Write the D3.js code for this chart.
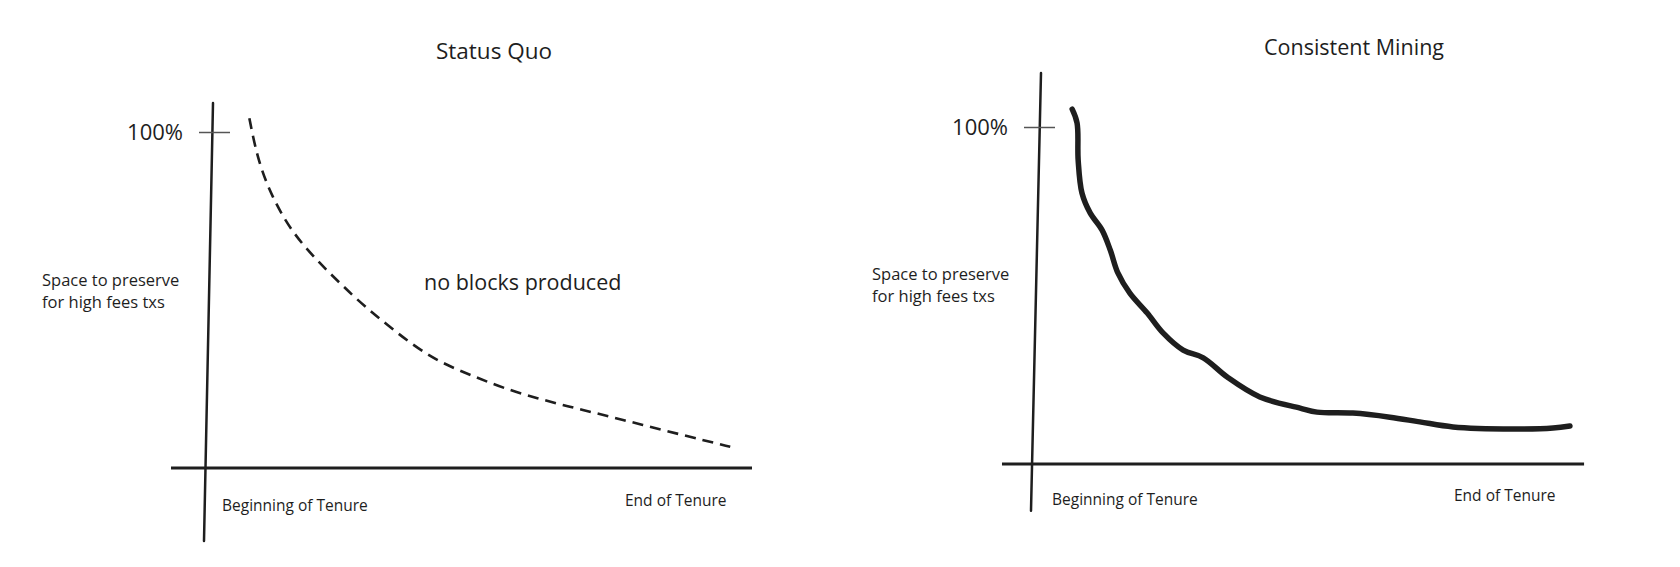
<!DOCTYPE html>
<html>
<head>
<meta charset="utf-8">
<script src="https://cdn.jsdelivr.net/npm/d3@7"></script>
<style>
  html, body { margin: 0; padding: 0; background: #fff; }
  svg text { font-family: 'Open Sans', sans-serif; fill: #1e1e1e; }
</style>
</head>
<body>
<svg id="chart"></svg>
<script>
// tenure progress (0 = beginning, 1 = end) and share of block space kept back
const statusQuoX = [0.076, 0.085, 0.094, 0.105, 0.119, 0.134, 0.153, 0.175, 0.199, 0.223,
  0.248, 0.273, 0.301, 0.325, 0.377, 0.426, 0.482, 0.542, 0.616, 0.689, 0.763, 0.836, 0.91, 0.96];
const statusQuoY = [1.041, 0.968, 0.912, 0.859, 0.807, 0.76, 0.71, 0.664, 0.621, 0.581,
  0.542, 0.503, 0.464, 0.432, 0.365, 0.315, 0.277, 0.238, 0.202, 0.173, 0.143, 0.113, 0.083, 0.063];

const miningX = [0.072, 0.081, 0.083, 0.09, 0.105, 0.127, 0.142, 0.156, 0.178, 0.21, 0.239,
  0.276, 0.313, 0.357, 0.417, 0.491, 0.522, 0.588, 0.656, 0.711, 0.772, 0.882, 0.956, 0.987];
const miningY = [1.053, 1.012, 0.902, 0.804, 0.745, 0.694, 0.635, 0.567, 0.507, 0.448, 0.389,
  0.338, 0.315, 0.258, 0.199, 0.166, 0.154, 0.151, 0.139, 0.125, 0.11, 0.104, 0.107, 0.113];

const yTicks = [1];
const yLabel = ['Space to preserve', 'for high fees txs'];
const xLabels = ['Beginning of Tenure', 'End of Tenure'];
const titles = ['Status Quo', 'Consistent Mining'];

const W = 1680, H = 567;
const svg = d3.select('#chart').attr('width', W).attr('height', H);

// layout of each panel (pixels), data lives above
const panels = [
  {
    title: titles[0], xs: statusQuoX, ys: statusQuoY, dashed: true,
    xRange: [208, 752], yRange: [468, 132],
    titleX: 494, titleY: 59, titleSize: 22.5,
    yAxisTop: 1.086, yAxisBottom: -0.217, tiltTop: 5, tiltBottom: -4,
    xAxisFrom: -0.068, xAxisTo: 1,
    labelX: 42, labelY: 286,
    begin: [222, 511], end: [625, 506],
    note: { text: 'no blocks produced', x: 424, y: 290 }
  },
  {
    title: titles[1], xs: miningX, ys: miningY, dashed: false,
    xRange: [1033, 1577], yRange: [464, 127],
    titleX: 1354, titleY: 55, titleSize: 21.5,
    yAxisTop: 1.16, yAxisBottom: -0.139, tiltTop: 8, tiltBottom: -2,
    xAxisFrom: -0.057, xAxisTo: 1.013,
    labelX: 872, labelY: 280,
    begin: [1052, 505], end: [1454, 501],
    note: null
  }
];

panels.forEach(p => {
  const x = d3.scaleLinear().domain([0, 1]).range(p.xRange);
  const y = d3.scaleLinear().domain([0, 1]).range(p.yRange);
  const g = svg.append('g');

  // title
  g.append('text')
    .attr('x', p.titleX).attr('y', p.titleY)
    .attr('text-anchor', 'middle')
    .style('font-size', p.titleSize + 'px')
    .text(p.title);

  // y axis (slightly hand-drawn tilt)
  g.append('line')
    .attr('x1', x(0) + p.tiltTop).attr('y1', y(p.yAxisTop))
    .attr('x2', x(0) + p.tiltBottom).attr('y2', y(p.yAxisBottom))
    .attr('stroke', '#1e1e1e').attr('stroke-width', 2.5).attr('stroke-linecap', 'round');

  // x axis
  g.append('line')
    .attr('x1', x(p.xAxisFrom)).attr('y1', y(0))
    .attr('x2', x(p.xAxisTo)).attr('y2', y(0))
    .attr('stroke', '#1e1e1e').attr('stroke-width', 3);

  // 100% tick
  const yAxis = d3.axisLeft(y)
    .tickValues(yTicks)
    .tickFormat(d3.format('.0%'))
    .tickSizeInner(13)
    .tickSizeOuter(0)
    .tickPadding(16);
  const ax = g.append('g')
    .attr('transform', `translate(${x(0) + 4},0)`)
    .call(yAxis);
  ax.select('.domain').remove();
  ax.selectAll('.tick line')
    .attr('x2', -13).attr('x1', 18)
    .attr('stroke', '#555').attr('stroke-width', 1.5);
  ax.selectAll('.tick text')
    .attr('fill', '#1e1e1e')
    .style('font-size', '22px')
    .style('font-family', "'Open Sans', sans-serif")
    .attr('dy', '0.36em');

  // y label, two lines
  yLabel.forEach((t, i) => {
    g.append('text')
      .attr('x', p.labelX).attr('y', p.labelY + i * 22)
      .style('font-size', '16.5px')
      .text(t);
  });

  // x labels
  g.append('text').attr('x', p.begin[0]).attr('y', p.begin[1])
    .style('font-size', '15.5px').text(xLabels[0]);
  g.append('text').attr('x', p.end[0]).attr('y', p.end[1])
    .style('font-size', '15.5px').text(xLabels[1]);

  if (p.note) {
    g.append('text').attr('x', p.note.x).attr('y', p.note.y)
      .style('font-size', '21.5px').text(p.note.text);
  }

  // curve: dashed one smoothed, solid one keeps its wobble
  const pts = p.xs.map((d, i) => [d, p.ys[i]]);
  const line = d3.line()
    .x(d => x(d[0]))
    .y(d => y(d[1]))
    .curve(p.dashed ? d3.curveBasis : d3.curveCatmullRom.alpha(0.5));

  g.append('path')
    .datum(pts)
    .attr('d', line)
    .attr('fill', 'none')
    .attr('stroke', '#1e1e1e')
    .attr('stroke-width', p.dashed ? 2.6 : 5.5)
    .attr('stroke-linecap', p.dashed ? 'butt' : 'round')
    .attr('stroke-linejoin', 'round')
    .attr('stroke-dasharray', p.dashed ? '11,7' : null);
});
</script>
</body>
</html>
